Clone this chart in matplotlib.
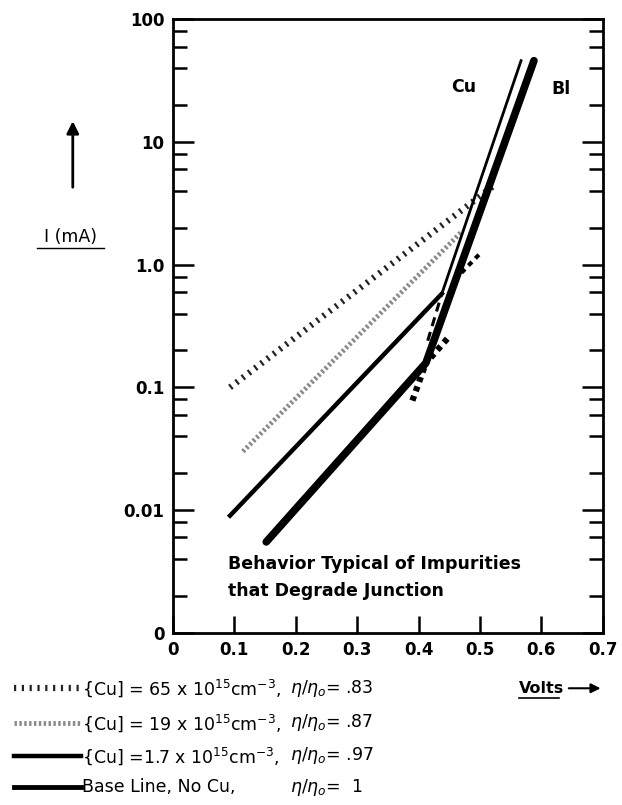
## import libraries ##
import matplotlib
matplotlib.use('Agg')
import matplotlib.pyplot as plt
from matplotlib.lines import Line2D
from matplotlib.ticker import FixedLocator, FixedFormatter
import numpy as np

plt.rcParams['font.family'] = ['Liberation Sans Narrow', 'DejaVu Sans']

## data (volts, mA) ##
cu65_v = [0.093, 0.525]
cu65_i = [0.1, 4.5]

cu19_v = [0.114, 0.47]
cu19_i = [0.03, 1.85]

cu17_v = [0.093, 0.438]
cu17_i = [0.009, 0.58]
cu17_ext_v = [0.47, 0.50]
cu17_ext_i = [0.86, 1.23]

cu_steep_v = [0.438, 0.567]
cu_steep_i = [0.58, 46]
cu_steep_ext_v = [0.415, 0.438]
cu_steep_ext_i = [0.24, 0.58]

base_v = [0.152, 0.412, 0.588]
base_i = [0.0055, 0.158, 46]
base_steep_ext_v = [0.39, 0.412]
base_steep_ext_i = [0.078, 0.158]
base_flat_ext_v = [0.42, 0.45]
base_flat_ext_i = [0.175, 0.26]

x_ticks = [0, 0.1, 0.2, 0.3, 0.4, 0.5, 0.6, 0.7]
x_labels = ['0', '0.1', '0.2', '0.3', '0.4', '0.5', '0.6', '0.7']
y_ticks = [0.001, 0.01, 0.1, 1, 10, 100]
y_labels = ['0', '0.01', '0.1', '1.0', '10', '100']

legend_labels = [
    r'{Cu] = 65 x 10$^{15}$cm$^{-3}$,',
    r'{Cu] = 19 x 10$^{15}$cm$^{-3}$,',
    r'{Cu] =1.7 x 10$^{15}$cm$^{-3}$,',
    'Base Line, No Cu,',
]
legend_ratio = ['.83', '.87', '.97', ' 1']

## figure ##
fig = plt.figure(figsize=(6.22, 8.05), dpi=100)
ax = fig.add_axes([0.278, 0.214, 0.691, 0.762])
ax.set_yscale('log')
ax.set_xlim(0, 0.7)
ax.set_ylim(0.001, 100)

style65 = dict(color='#222222', lw=4.5, ls=(0, (0.35, 0.9)), solid_capstyle='butt', dash_capstyle='butt')
style19 = dict(color='#8a8a8a', lw=3.5, ls=(0, (0.5, 0.5)), dash_capstyle='butt')
style17 = dict(color='black', lw=3.2)
styleb = dict(color='black', lw=5.5, solid_capstyle='round')

ax.plot(cu65_v, cu65_i, **style65)
ax.plot(cu19_v, cu19_i, **style19)
ax.plot(cu17_v, cu17_i, **style17)
ax.plot(cu17_ext_v, cu17_ext_i, color='black', lw=3, ls=(0, (1.2, 1.2)))
ax.plot(cu_steep_v, cu_steep_i, color='black', lw=2)
ax.plot(cu_steep_ext_v, cu_steep_ext_i, color='black', lw=2.2, ls=(0, (3, 2)))
ax.plot(base_v, base_i, **styleb)
ax.plot(base_steep_ext_v, base_steep_ext_i, color='black', lw=4.5, ls=(0, (0.8, 0.8)))
ax.plot(base_flat_ext_v, base_flat_ext_i, color='black', lw=4.5, ls=(0, (0.8, 0.8)))

## axes & ticks ##
ax.xaxis.set_major_locator(FixedLocator(x_ticks))
ax.xaxis.set_major_formatter(FixedFormatter(x_labels))
ax.yaxis.set_major_locator(FixedLocator(y_ticks))
ax.yaxis.set_major_formatter(FixedFormatter(y_labels))
minors = [m * d for d in [0.001, 0.01, 0.1, 1, 10] for m in (2, 4, 6, 8)]
ax.yaxis.set_minor_locator(FixedLocator(minors))
ax.yaxis.set_minor_formatter(FixedFormatter([''] * len(minors)))
ax.xaxis.set_minor_locator(FixedLocator([]))

ax.tick_params(axis='y', which='major', direction='in', length=15, width=1.8,
               left=True, right=True, labelsize=12, pad=6)
ax.tick_params(axis='y', which='minor', direction='in', length=10, width=1.8,
               left=True, right=True)
ax.tick_params(axis='x', which='major', direction='in', length=12, width=1.8,
               top=False, labelsize=12, pad=6)
for lab in ax.get_xticklabels() + ax.get_yticklabels():
    lab.set_fontweight('bold')
for sp in ax.spines.values():
    sp.set_linewidth(2)

## annotations ##
ax.text(0.474, 28, 'Cu', fontsize=12.5, fontweight='bold', ha='center', va='center')
ax.text(0.632, 27, 'Bl', fontsize=12.5, fontweight='bold', ha='center', va='center')
ax.text(0.089, 0.0036, 'Behavior Typical of Impurities', fontsize=12.5,
        fontweight='bold', ha='left', va='center')
ax.text(0.089, 0.0022, 'that Degrade Junction', fontsize=12.5,
        fontweight='bold', ha='left', va='center')

# y label with arrow
fig.text(0.113, 0.706, 'I (mA)', fontsize=12.5, ha='center', va='center')
fig.add_artist(Line2D([0.060, 0.167], [0.692, 0.692], color='black', lw=1))
fig.add_artist(plt.Annotation('', xy=(0.117, 0.853), xytext=(0.117, 0.764),
                              xycoords='figure fraction',
                              arrowprops=dict(arrowstyle='-|>', color='black', lw=2,
                                              mutation_scale=18)))

# x label with arrow
fig.text(0.835, 0.145, 'Volts', fontsize=11.5, fontweight='bold', ha='left', va='center')
fig.add_artist(Line2D([0.835, 0.898], [0.133, 0.133], color='black', lw=1.2))
fig.add_artist(plt.Annotation('', xy=(0.97, 0.145), xytext=(0.91, 0.145),
                              xycoords='figure fraction',
                              arrowprops=dict(arrowstyle='-|>', color='black', lw=1.5,
                                              mutation_scale=14)))

## hand-drawn legend ##
rows_y = [0.145, 0.102, 0.061, 0.022]
styles = [style65, style19, style17, dict(color='black', lw=3.5)]
for yy, st, lab, r in zip(rows_y, styles, legend_labels, legend_ratio):
    fig.add_artist(Line2D([0.022, 0.13], [yy, yy], **st))
    fig.text(0.132, yy, lab, fontsize=12.5, ha='left', va='center')
    fig.text(0.466, yy, r'$\eta/\eta_o$= ' + r, fontsize=12.5, ha='left', va='center')

fig.savefig('out.png', dpi=100)
